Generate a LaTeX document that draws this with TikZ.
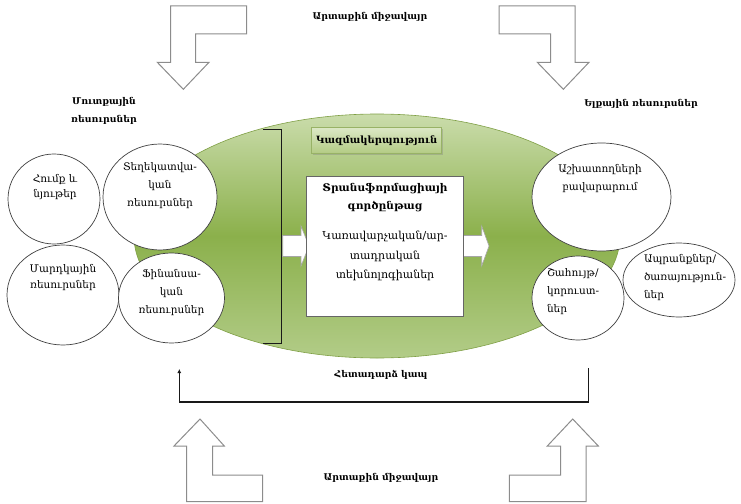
\documentclass[tikz,border=0pt]{standalone}
\usepackage{fontspec}
\setmainfont{DejaVu Serif}
\usetikzlibrary{shapes.geometric,shadows,arrows.meta}
\definecolor{ovtop}{HTML}{CADCAB}
\definecolor{ovmid}{HTML}{8BB04B}
\definecolor{ovbot}{HTML}{B2CC88}
\definecolor{ovline}{HTML}{7F9F45}
\definecolor{orgtop}{HTML}{DCE8C6}
\definecolor{orgbot}{HTML}{B3CB84}
\definecolor{orgline}{HTML}{98B266}
\begin{document}
\begin{tikzpicture}[x=1pt,y=-1pt,
  every node/.style={inner sep=0pt, outer sep=0pt},
  res/.style={ellipse, draw=black!75, line width=0.7pt, fill=white},
  lbl/.style={font=\fontsize{10.5}{18}\selectfont, align=center},
  lbll/.style={font=\fontsize{10.5}{18}\selectfont, align=left},
  head/.style={font=\bfseries\fontsize{9.3}{18}\selectfont, align=center},
  title/.style={font=\bfseries\fontsize{10.6}{18}\selectfont, align=center},
  bent/.style={draw=black!45, line width=1pt, fill=white, line join=miter},
  wide/.style={draw=black!35, line width=0.6pt, fill=white},
  conn/.style={line width=1.3pt, draw=black!90}]

\useasboundingbox (0,0) rectangle (741,503);

% the organisation as a shaded oval
\node[ellipse, minimum width=486pt, minimum height=244pt, draw=ovline, line width=0.6pt,
      top color=ovtop, bottom color=ovbot, middle color=ovmid] (orgbg) at (377,236) {};

% bracket gathering the input resources
\coordinate (brtop) at (263.3,129.3);
\coordinate (brbot) at (263.3,343.3);
\draw[conn] (brtop) -- ++(18.4,0) |- (brbot);

% block arrows into and out of the process
\draw[wide] (282.7,235.5) -- (301,235.5) -- (301,226) -- (309,246) -- (301,266) -- (301,256.5) -- (282.7,256.5) -- cycle;
\draw[wide] (463.3,235.5) -- (481.7,235.5) -- (481.7,226) -- (489,246) -- (481.7,266) -- (481.7,256.5) -- (463.3,256.5) -- cycle;

% transformation process
\node[draw=black!60, line width=0.6pt, fill=white, minimum width=156.6pt, minimum height=140pt] (proc) at (385,246) {};
\node[title, anchor=north] (proctitle) at (385,183) {Տրանսֆորմացիայի\\գործընթաց};
\node[lbl, font=\fontsize{11}{19.5}\selectfont] (proctext) at (385,256) {Կառավարչական/ար-\\տադրական\\տեխնոլոգիաներ};

% organisation label
\node[draw=orgline, line width=0.6pt, top color=orgtop, bottom color=orgbot,
      minimum width=130pt, minimum height=26pt, font=\bfseries\fontsize{10}{12}\selectfont,
      drop shadow={shadow xshift=1.5pt, shadow yshift=-1.5pt, opacity=0.35}] (org) at (376.7,140.3) {Կազմակերպություն};

% input resources
\node[res, minimum width=92pt, minimum height=90pt] (raw) at (54,199) {};
\node[res, minimum width=114pt, minimum height=106pt] (info) at (160,197) {};
\node[res, minimum width=112pt, minimum height=100pt] (human) at (63,295) {};
\node[res, minimum width=106pt, minimum height=90pt] (fin) at (171.5,298) {};
\node[lbl, font=\fontsize{10.5}{15}\selectfont] (rawtxt) at (55,187) {Հումք և\\նյութեր};
\node[lbl] (infotxt) at (160,186) {Տեղեկատվա-\\կան\\ռեսուրսներ};
\node[lbl, font=\fontsize{10.5}{16}\selectfont] (humantxt) at (63,278) {Մարդկային\\ռեսուրսներ};
\node[lbl] (fintxt) at (171.5,293) {Ֆինանսա-\\կան\\ռեսուրսներ};

% output resources
\node[res, minimum width=139pt, minimum height=108pt] (staff) at (601.5,197) {};
\node[res, minimum width=92pt, minimum height=84pt] (profit) at (578,298) {};
\node[res, minimum width=112pt, minimum height=74pt] (goods) at (679,280) {};
\node[lbl] (stafftxt) at (600,179) {Աշխատողների\\բավարարում};
\node[lbll, anchor=west] (profittxt) at (547,292) {Շահույթ/\\կորուստ-\\ներ};
\node[lbll, anchor=west] (goodstxt) at (644,278) {Ապրանքներ/\\ծառայություն-\\ներ};

% group headings
\node[head] (inres) at (104,111) {Մուտքային\\ռեսուրսներ};
\node[head] (outres) at (641,104) {Ելքային ռեսուրսներ};

% external environment
\node[head] (envtop) at (370,17) {Արտաքին միջավայր};
\node[head] (envbot) at (381,478) {Արտաքին միջավայր};
\draw[bent] (170.7,6) -- (246.7,6) -- (246.7,34) -- (195.7,34) -- (195.7,62.3) -- (209,62.3) -- (183.3,89.3) -- (157.3,62.3) -- (170.7,62.3) -- cycle;
\draw[bent] (575,6) -- (499,6) -- (499,34) -- (550.7,34) -- (550.7,62.3) -- (537.3,62.3) -- (563.3,89.3) -- (589,62.3) -- (575,62.3) -- cycle;
\draw[bent] (186.7,501.5) -- (262.7,501.5) -- (262.7,475) -- (212.7,475) -- (212.7,446) -- (224.3,446) -- (200,419) -- (174,446) -- (186.7,446) -- cycle;
\draw[bent] (586,501.5) -- (509.3,501.5) -- (509.3,475) -- (560.7,475) -- (560.7,446) -- (547.3,446) -- (572.7,419) -- (598.3,446) -- (586,446) -- cycle;

% feedback loop
\coordinate (fbout) at (588.3,368);
\coordinate (fbin) at (179.3,369);
\node[head] (fbtxt) at (381,375) {Հետադարձ կապ};
\draw[conn, -{Latex[length=4pt,width=4pt]}] (fbout) -- ++(0,34) -| (fbin);
\end{tikzpicture}
\end{document}
